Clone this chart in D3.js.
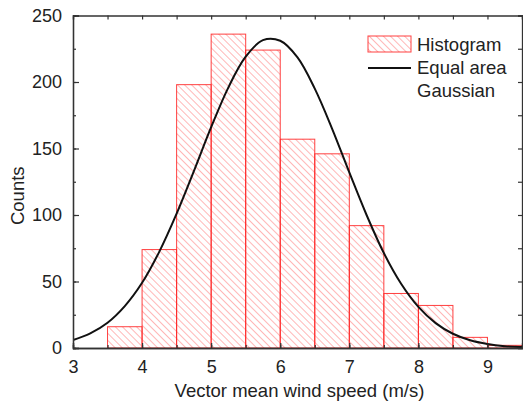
<!DOCTYPE html>
<html>
<head>
<meta charset="utf-8">
<script src="https://cdn.jsdelivr.net/npm/d3@7"></script>
<style>
  body { margin: 0; background: #fff; }
  text { font-family: "Liberation Sans", Arial, sans-serif; fill: #222; }
</style>
</head>
<body>
<div id="chart"></div>
<script>
const width = 523;
const height = 407;

// histogram bins (left edge), counts per 0.5 m/s bin
const binStart = [3.5, 4, 4.5, 5, 5.5, 6, 6.5, 7, 7.5, 8, 8.5, 9];
const binCounts = [16, 74, 198, 236, 224, 157, 146, 92, 41, 32, 8, 2];
const binWidth = 0.5;

// equal area gaussian
const curveX = [3, 3.25, 3.5, 3.75, 4, 4.25, 4.5, 4.75, 5, 5.25, 5.5, 5.75, 6, 6.25, 6.5, 6.75, 7, 7.25, 7.5, 7.75, 8, 8.25, 8.5, 8.75, 9, 9.25, 9.5];
const curveY = [6, 11, 19, 31.5, 49, 72.5, 101, 133, 166, 196, 219, 231.5, 231, 218.5, 195, 165, 132, 100, 71.4, 48.3, 30.9, 18.7, 10.7, 5.8, 3, 1.4, 0.7];

const xTicks = [3, 4, 5, 6, 7, 8, 9];
const yTicks = [0, 50, 100, 150, 200, 250];

const margin = { left: 73, right: 1, top: 15.5, bottom: 59 };

const x = d3.scaleLinear().domain([3, 9.5]).range([margin.left, width - margin.right]);
const y = d3.scaleLinear().domain([0, 250]).range([height - margin.bottom, margin.top]);

const svg = d3.select("#chart").append("svg")
	.attr("width", width)
	.attr("height", height);

const defs = svg.append("defs");
const pat = defs.append("pattern")
	.attr("id", "hatch")
	.attr("patternUnits", "userSpaceOnUse")
	.attr("width", 5)
	.attr("height", 5)
	.attr("patternTransform", "rotate(-45)");
pat.append("line")
	.attr("x1", 0).attr("y1", 0).attr("x2", 0).attr("y2", 5)
	.attr("stroke", "#ff6060")
	.attr("stroke-width", 0.9);

defs.append("clipPath").attr("id", "plotclip")
	.append("rect")
	.attr("x", margin.left).attr("y", margin.top)
	.attr("width", width - margin.left - margin.right)
	.attr("height", height - margin.top - margin.bottom);

// bars
svg.append("g")
	.selectAll("rect")
	.data(binStart)
	.join("rect")
	.attr("x", (d) => x(d))
	.attr("y", (d, i) => y(binCounts[i]))
	.attr("width", (d) => x(d + binWidth) - x(d))
	.attr("height", (d, i) => y(0) - y(binCounts[i]))
	.attr("fill", "url(#hatch)")
	.attr("stroke", "#ff2020")
	.attr("stroke-opacity", 0.85)
	.attr("stroke-width", 1);

// gaussian curve
const line = d3.line()
	.x((d, i) => x(curveX[i]))
	.y((d) => y(d))
	.curve(d3.curveCatmullRom);

svg.append("path")
	.datum(curveY)
	.attr("clip-path", "url(#plotclip)")
	.attr("d", line)
	.attr("fill", "none")
	.attr("stroke", "#111")
	.attr("stroke-width", 2);

// axes, all ticks pointing inward
const minorX = d3.range(3, 9.51, 0.5);
const minorY = d3.range(0, 250.1, 25);

svg.append("g")
	.attr("transform", `translate(0,${y(0)})`)
	.call(d3.axisBottom(x).tickValues(minorX).tickSize(-3).tickFormat(""));
svg.append("g")
	.attr("transform", `translate(0,${y(0)})`)
	.call(d3.axisBottom(x).tickValues(xTicks).tickSize(-5).tickPadding(12).tickFormat(d3.format("d")));

svg.append("g")
	.attr("transform", `translate(0,${y(250)})`)
	.call(d3.axisTop(x).tickValues(minorX).tickSize(-4).tickFormat(""));

svg.append("g")
	.attr("transform", `translate(${x(3)},0)`)
	.call(d3.axisLeft(y).tickValues(minorY).tickSize(-3).tickFormat(""));
svg.append("g")
	.attr("transform", `translate(${x(3)},0)`)
	.call(d3.axisLeft(y).tickValues(yTicks).tickSize(-6).tickPadding(11));

svg.append("g")
	.attr("transform", `translate(${x(9.5)},0)`)
	.call(d3.axisRight(y).tickValues(minorY).tickSize(-4).tickFormat(""));

svg.selectAll(".domain").attr("stroke", "#333").attr("stroke-width", 1.3);
svg.selectAll(".tick line").attr("stroke", "#333").attr("stroke-width", 1.2);
svg.selectAll(".tick text")
	.style("font-size", "18px")
	.attr("fill", "#222");

// axis titles
svg.append("text")
	.attr("x", (x(3) + x(9.5)) / 2 + 2)
	.attr("y", 397)
	.attr("text-anchor", "middle")
	.style("font-size", "18.5px")
	.text("Vector mean wind speed (m/s)");

svg.append("text")
	.attr("transform", `translate(24,${(y(0) + y(250)) / 2 + 14}) rotate(-90)`)
	.attr("text-anchor", "middle")
	.style("font-size", "18.5px")
	.text("Counts");

// legend
const lg = svg.append("g");
lg.append("rect")
	.attr("x", 368).attr("y", 36)
	.attr("width", 43).attr("height", 16)
	.attr("fill", "url(#hatch)")
	.attr("stroke", "#ff2020")
	.attr("stroke-opacity", 0.85);
lg.append("text").attr("x", 417).attr("y", 51).style("font-size", "18.5px").text("Histogram");
lg.append("line")
	.attr("x1", 368).attr("x2", 411)
	.attr("y1", 68).attr("y2", 68)
	.attr("stroke", "#111").attr("stroke-width", 2);
lg.append("text").attr("x", 417).attr("y", 74).style("font-size", "18.5px").text("Equal area");
lg.append("text").attr("x", 417).attr("y", 97).style("font-size", "18.5px").text("Gaussian");
</script>
</body>
</html>
